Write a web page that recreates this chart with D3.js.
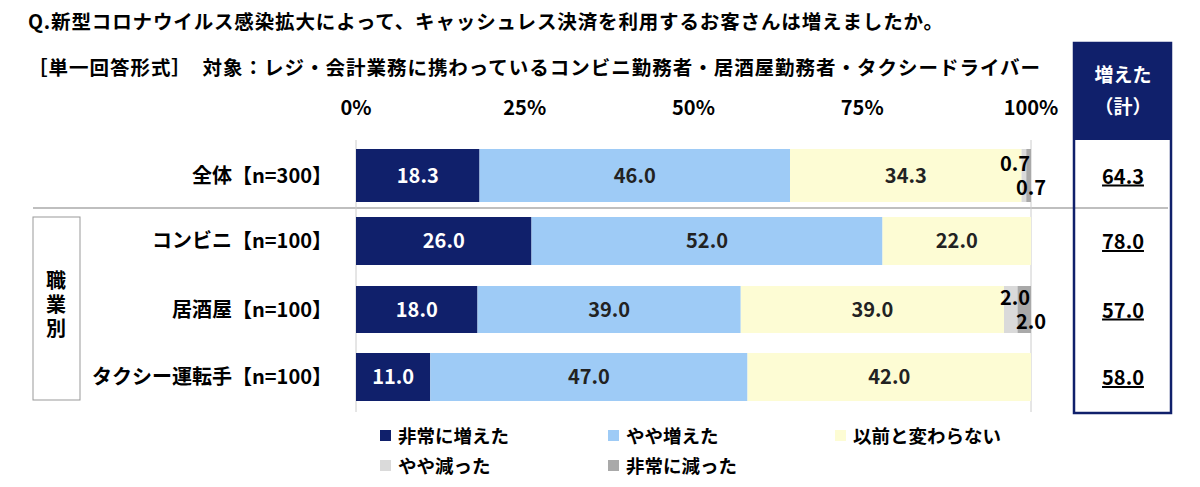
<!DOCTYPE html><html><head><meta charset="utf-8"><script src="https://cdn.jsdelivr.net/npm/d3@7"></script>
<style>body{margin:0;background:#fff}text{font-family:"Noto Sans CJK JP",sans-serif;font-weight:bold}</style></head><body>
<svg id="c" width="1200" height="487"></svg>
<script>
const categories=["全体【n=300】","コンビニ【n=100】","居酒屋【n=100】","タクシー運転手【n=100】"];
const seriesNames=["非常に増えた","やや増えた","以前と変わらない","やや減った","非常に減った"];
const s1=[18.3,26.0,18.0,11.0];
const s2=[46.0,52.0,39.0,47.0];
const s3=[34.3,22.0,39.0,42.0];
const s4=[0.7,0,2.0,0];
const s5=[0.7,0,2.0,0];
const totals=["64.3","78.0","57.0","58.0"];
const ticks=[0,25,50,75,100];
const colors=["#10206b","#9ecbf6","#fdfcd4","#dadada","#a9a9a9"];
const svg=d3.select("#c");
const x=d3.scaleLinear().domain([0,100]).range([356,1031]);
const yc=d3.scaleOrdinal().domain(categories).range([175.5,241,309.5,377]);
const bh=d3.scaleOrdinal().domain(categories).range([53,48,47,48]);
svg.append("text").attr("x",28).attr("y",29).attr("font-size",19.5).attr("textLength",915).text("Q.新型コロナウイルス感染拡大によって、キャッシュレス決済を利用するお客さんは増えましたか。");
svg.append("text").attr("x",28).attr("y",75).attr("font-size",19.5).attr("xml:space","preserve").attr("textLength",1012).text("［単一回答形式］　対象：レジ・会計業務に携わっているコンビニ勤務者・居酒屋勤務者・タクシードライバー");
ticks.forEach(t=>svg.append("text").attr("x",x(t)).attr("y",115).attr("text-anchor","middle").attr("font-size",20).text(t+"%"));
svg.append("line").attr("x1",33).attr("x2",1168).attr("y1",208).attr("y2",208).attr("stroke","#aaa").attr("stroke-width",1.5);
svg.append("line").attr("x1",x(0)).attr("x2",x(0)).attr("y1",140).attr("y2",412).attr("stroke","#ccc");
svg.append("line").attr("x1",x(100)).attr("x2",x(100)).attr("y1",140).attr("y2",412).attr("stroke","#ccc");
svg.append("rect").attr("x",33).attr("y",217).attr("width",47).attr("height",183).attr("fill","none").attr("stroke","#999");
["職","業","別"].forEach((c,i)=>svg.append("text").attr("x",56).attr("y",288+i*24).attr("text-anchor","middle").attr("font-size",20).text(c));
const series=[s1,s2,s3,s4,s5];
categories.forEach((c,i)=>{
  svg.append("text").attr("x",332).attr("y",yc(c)+7).attr("text-anchor","end").attr("font-size",20).text(c);
  let acc=0;
  series.forEach((s,k)=>{
    const v=s[i]; if(!v){return;}
    svg.append("rect").attr("x",x(acc)).attr("y",yc(c)-bh(c)/2).attr("width",x(acc+v)-x(acc)).attr("height",bh(c)).attr("fill",colors[k]);
    if(k<3) svg.append("text").attr("x",(x(acc)+x(acc+v))/2).attr("y",yc(c)+7).attr("text-anchor","middle").attr("font-size",20).attr("fill",k==0?"#fff":"#222").text(v.toFixed(1));
    acc+=v;
  });
  if(s4[i]){
    svg.append("text").attr("x",1030).attr("y",yc(c)-5).attr("text-anchor","end").attr("font-size",20).text(s4[i].toFixed(1));
    svg.append("text").attr("x",1046).attr("y",yc(c)+19).attr("text-anchor","end").attr("font-size",20).text(s5[i].toFixed(1));
  }
  svg.append("text").attr("x",1123).attr("y",yc(c)+8).attr("text-anchor","middle").attr("font-size",20).attr("text-decoration","underline").text(totals[i]);
});
svg.append("rect").attr("x",1074).attr("y",43).attr("width",97).attr("height",370).attr("fill","none").attr("stroke","#10206b").attr("stroke-width",2.5);
svg.append("rect").attr("x",1074).attr("y",43).attr("width",97).attr("height",97).attr("fill","#10206b");
svg.append("text").attr("x",1123).attr("y",82).attr("text-anchor","middle").attr("fill","#fff").attr("font-size",19).text("増えた");
svg.append("text").attr("x",1123).attr("y",114).attr("text-anchor","middle").attr("fill","#fff").attr("font-size",19).text("（計）");
const lx=[380,608,835,380,608], ly=[436,436,436,466,466];
seriesNames.forEach((n,k)=>{
  svg.append("rect").attr("x",lx[k]).attr("y",ly[k]-6).attr("width",11).attr("height",11).attr("fill",colors[k]);
  svg.append("text").attr("x",lx[k]+18).attr("y",ly[k]+7).attr("font-size",18.5).text(n);
});
</script></body></html>
